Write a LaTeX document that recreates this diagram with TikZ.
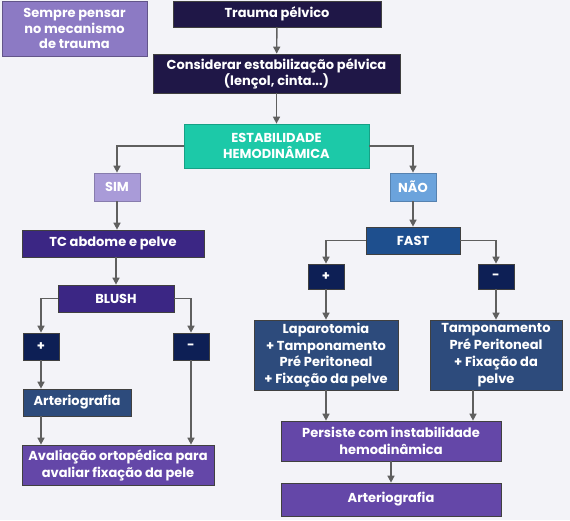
\documentclass[tikz,border=0pt]{standalone}
\usepackage{fontspec}
\setmainfont{Poppins}
\usepackage{tikz}
\usetikzlibrary{arrows.meta, positioning, calc}
\usepackage{xcolor}
\definecolor{bgpage}{RGB}{243,243,248}
\definecolor{darknavy}{RGB}{31,23,71}
\definecolor{lilac}{RGB}{140,122,196}
\definecolor{teal}{RGB}{28,201,168}
\definecolor{simcol}{RGB}{169,155,216}
\definecolor{naocol}{RGB}{107,163,220}
\definecolor{indigo}{RGB}{59,38,132}
\definecolor{fastblue}{RGB}{30,79,142}
\definecolor{signnavy}{RGB}{13,31,85}
\definecolor{slateblue}{RGB}{45,75,124}
\definecolor{violet}{RGB}{100,71,168}
\definecolor{arrowgray}{RGB}{95,95,95}

\tikzset{
  box/.style={draw=black!75, line width=0.7pt, text=white, align=center,
    inner sep=1pt, font=\bfseries\fontsize{13}{16.8}\selectfont},
  flow/.style={-{Triangle[length=7pt,width=7pt]}, arrowgray, line width=1.4pt},
}

\begin{document}
\begin{tikzpicture}[x=1pt, y=-1pt]
        \fill[bgpage] (0,0) rectangle (570,520);
        \useasboundingbox (0,0) rectangle (570,520);
        % top of the chart
        \node[box, fill=lilac, draw=lilac!70!black, minimum width=145pt, minimum height=55pt, font=\bfseries\fontsize{13}{15.5}\selectfont] (sempre) at (74.5,28.5) {Sempre pensar\\no mecanismo\\de trauma};
        \node[box, fill=darknavy, minimum width=208pt, minimum height=26pt] (trauma) at (277,14) {Trauma pélvico};
        \node[box, fill=darknavy, minimum width=247pt, minimum height=39pt, font=\bfseries\fontsize{13}{16}\selectfont] (consid) at (276.5,73.5) {Considerar estabilização pélvica\\(lençol, cinta...)};
        \node[box, fill=teal, draw=teal!80!black, minimum width=185pt, minimum height=44pt] (estab) at (276.5,146) {ESTABILIDADE\\HEMODINÂMICA};
        \node[box, fill=simcol, draw=simcol!80!black, minimum width=46pt, minimum height=28pt] (sim) at (117,187) {SIM};
        \node[box, fill=naocol, draw=naocol!80!black, minimum width=46pt, minimum height=28pt] (nao) at (413,187) {NÃO};
        % stable branch
        \node[box, fill=indigo, minimum width=182pt, minimum height=27pt] (tc) at (113,243.5) {TC abdome e pelve};
        \node[box, fill=indigo, minimum width=116pt, minimum height=27pt] (blush) at (116,298.5) {BLUSH};
        \node[box, fill=signnavy, minimum width=36pt, minimum height=27pt] (plusL) at (41,346.5) {+};
        \node[box, fill=signnavy, minimum width=36pt, minimum height=27pt] (minusL) at (191,346.5) {-};
        \node[box, fill=slateblue, minimum width=108pt, minimum height=27pt] (arteL) at (77,402.5) {Arteriografia};
        \node[box, fill=violet, minimum width=192pt, minimum height=40pt] (aval) at (118,465) {Avaliação ortopédica para\\avaliar fixação da pele};
        % unstable branch
        \node[box, fill=fastblue, minimum width=94pt, minimum height=27pt] (fast) at (413,240.5) {FAST};
        \node[box, fill=signnavy, minimum width=36pt, minimum height=25pt] (plusR) at (326,276.5) {+};
        \node[box, fill=signnavy, minimum width=36pt, minimum height=25pt] (minusR) at (496,276.5) {-};
        \node[box, fill=slateblue, minimum width=144pt, minimum height=70pt] (lapa) at (326,355) {Laparotomia\\+ Tamponamento\\Pré Peritoneal\\+ Fixação da pelve};
        \node[box, fill=slateblue, minimum width=132pt, minimum height=70pt] (tamp) at (496,355) {Tamponamento\\Pré Peritoneal\\+ Fixação da\\pelve};
        \node[box, fill=violet, minimum width=220pt, minimum height=40pt] (pers) at (391,441) {Persiste com instabilidade\\hemodinâmica};
        \node[box, fill=violet, minimum width=220pt, minimum height=33pt] (arteR) at (391,499.5) {Arteriografia};
        \coordinate (tampout) at ([xshift=-23pt]tamp.south);

        % arrows
        \draw[flow] (trauma) -- (consid);
        \draw[flow] (consid) -- (estab);
        \draw[flow] (estab.west) -| (sim);
        \draw[flow] (estab.east) -| (nao);
        \draw[flow] (sim) -- (sim |- tc.north);
        \draw[flow] (blush |- tc.south) -- (blush);
        \draw[flow] (blush.west) -| (plusL);
        \draw[flow] (blush.east) -| (minusL);
        \draw[flow] (plusL) -- (plusL |- arteL.north);
        \draw[flow] (plusL |- arteL.south) -- (plusL |- aval.north);
        \draw[flow] (minusL) -- (minusL |- aval.north);
        \draw[flow] (nao) -- (fast);
        \draw[flow] (fast.west) -| (plusR);
        \draw[flow] (fast.east) -| (minusR);
        \draw[flow] (plusR) -- (lapa);
        \draw[flow] (minusR) -- (tamp);
        \draw[flow] (lapa) -- (lapa |- pers.north);
        \draw[flow] (tampout) -- (tampout |- pers.north);
        \draw[flow] (pers) -- (arteR);
      \end{tikzpicture}
\end{document}
